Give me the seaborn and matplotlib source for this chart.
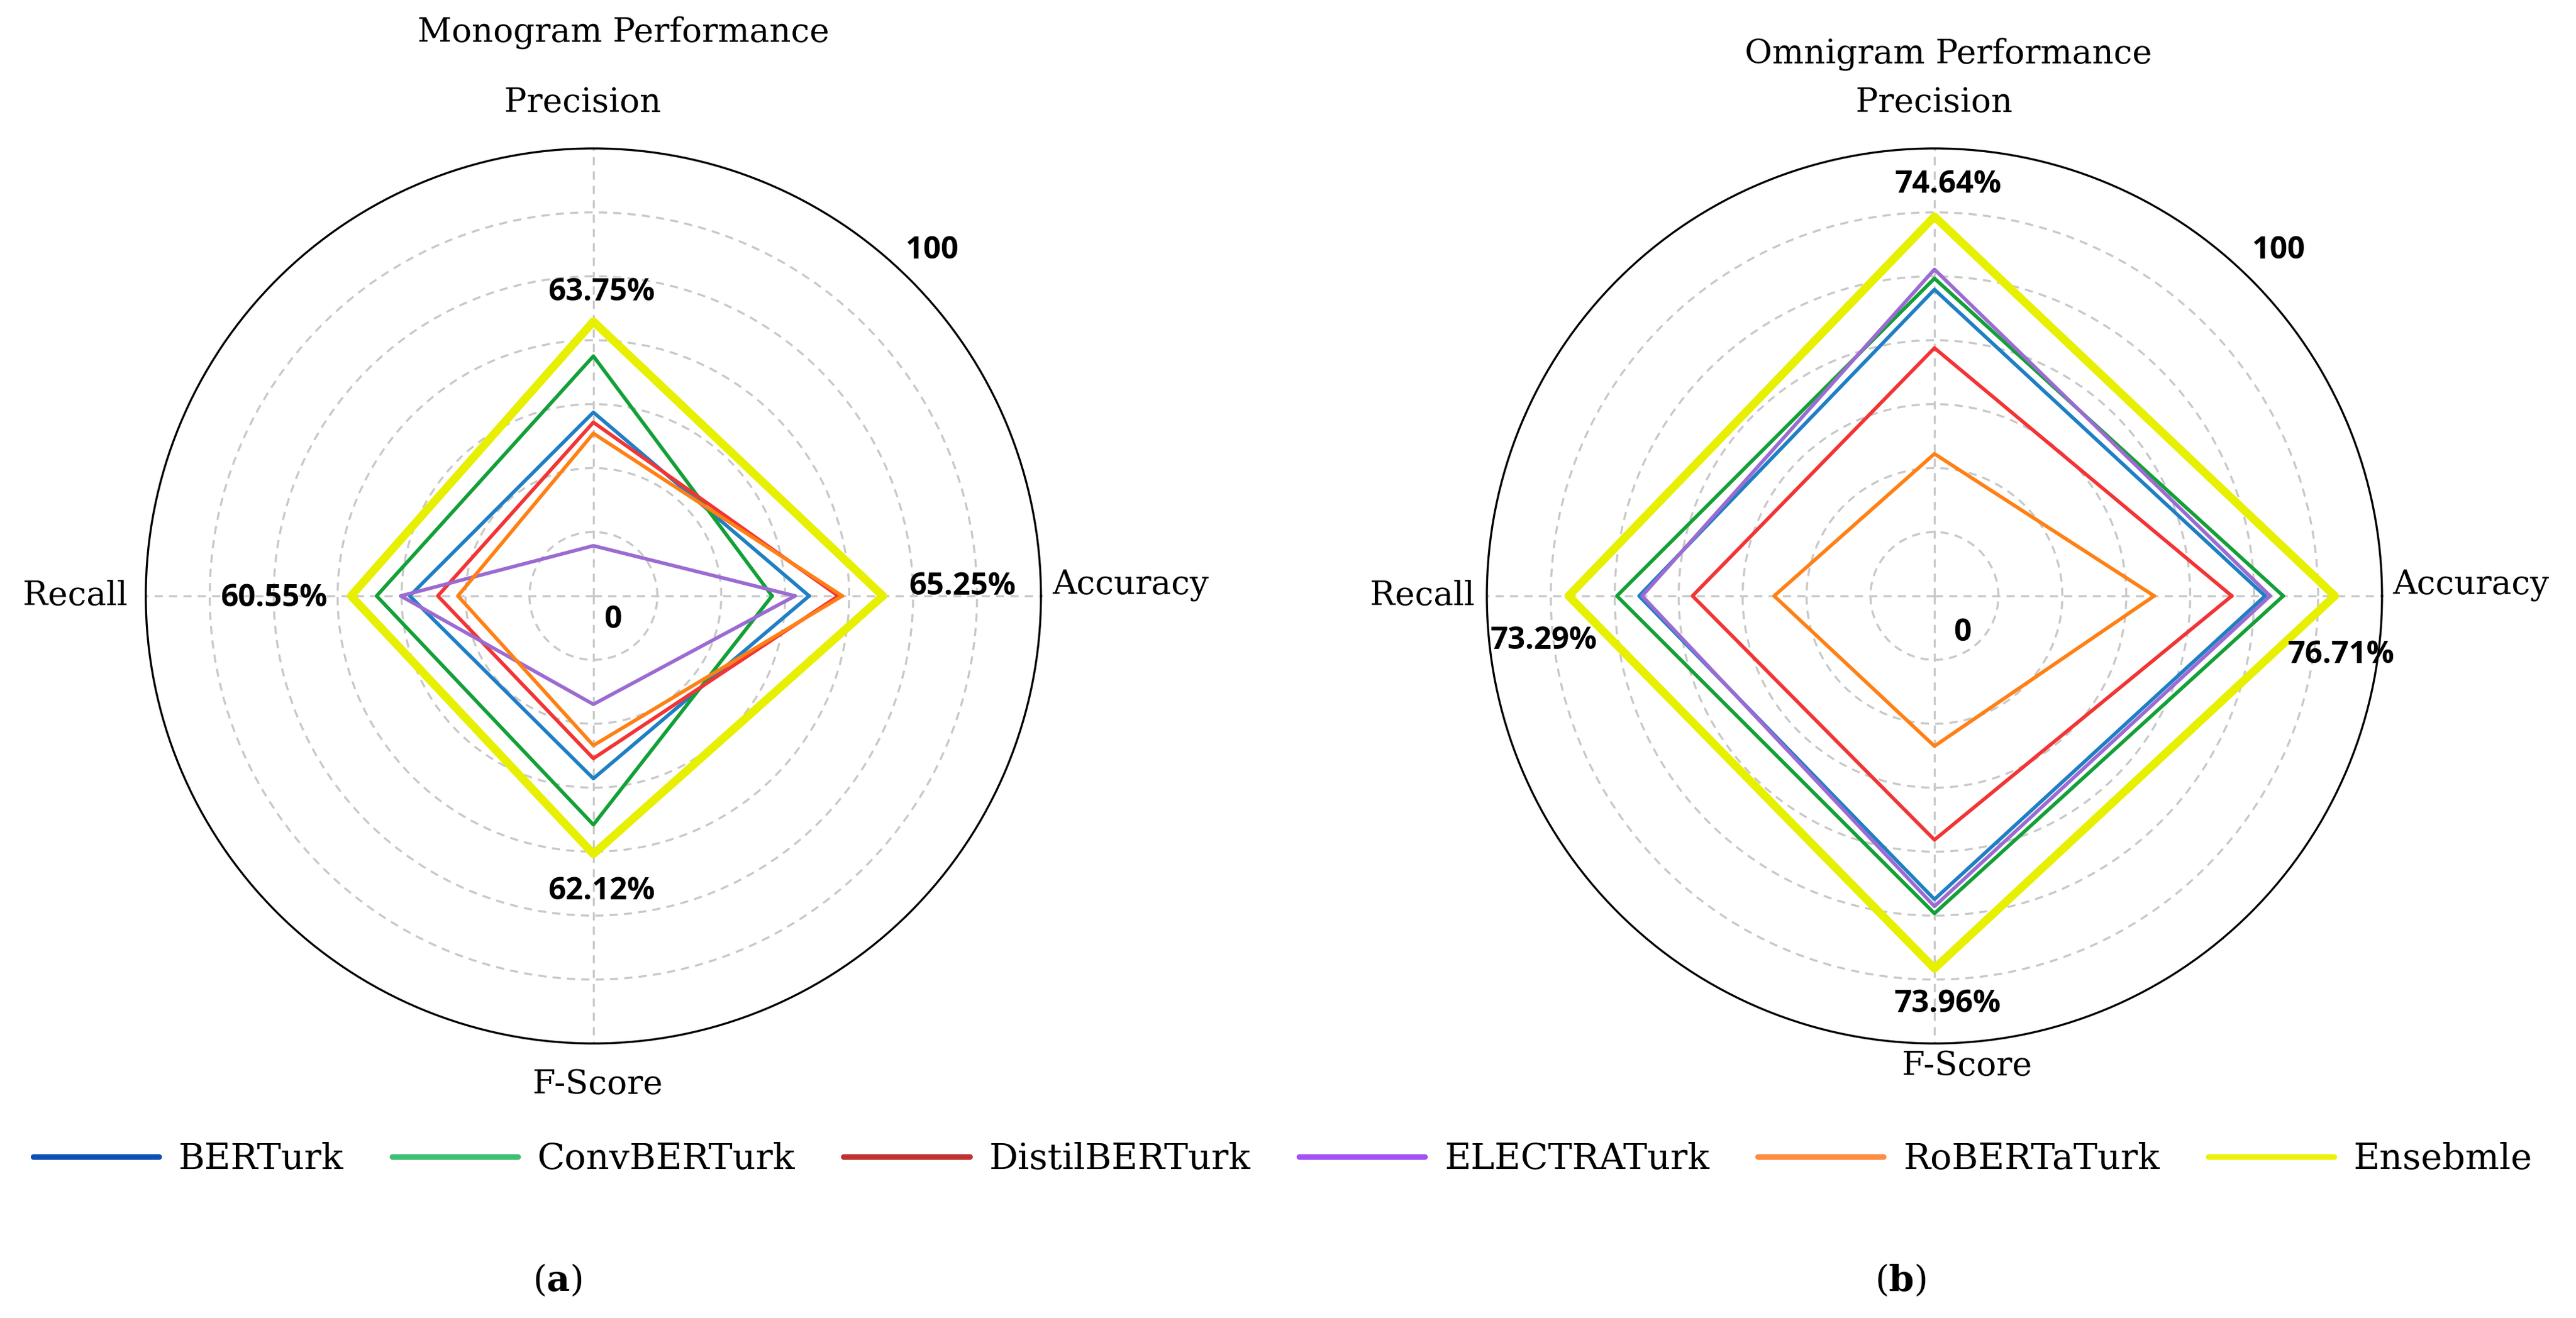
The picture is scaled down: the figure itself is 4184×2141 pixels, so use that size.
import numpy as np
import pandas as pd
import matplotlib.pyplot as plt
import seaborn as sns
from matplotlib.lines import Line2D

sns.set_style("white")
plt.rcParams["font.family"] = ["DejaVu Serif"]
plt.rcParams["mathtext.fontset"] = "dejavuserif"
plt.rcParams["text.color"] = "black"

metrics = ["Accuracy", "Precision", "Recall", "F-Score"]
models = ["BERTurk", "ConvBERTurk", "DistilBERTurk", "ELECTRATurk", "RoBERTaTurk", "Ensemble"]
legend_labels = ["BERTurk", "ConvBERTurk", "DistilBERTurk", "ELECTRATurk", "RoBERTaTurk", "Ensebmle"]

# values per model in metric order: Accuracy, Precision, Recall, F-Score
mono_bert = [57.9, 54.7, 54.7, 54.6]
mono_conv = [54.2, 60.3, 58.0, 59.2]
mono_distil = [60.8, 53.7, 51.9, 52.6]
mono_electra = [56.5, 41.4, 55.6, 47.2]
mono_roberta = [61.2, 52.6, 49.9, 51.3]
mono_ensemble = [65.25, 63.75, 60.55, 62.12]

omni_bert = [69.8, 67.4, 66.3, 67.1]
omni_conv = [71.6, 68.5, 68.5, 68.5]
omni_distil = [66.5, 61.6, 61.0, 61.2]
omni_electra = [70.3, 69.4, 66.0, 67.8]
omni_roberta = [58.8, 51.1, 52.9, 51.9]
omni_ensemble = [76.71, 74.64, 73.29, 73.96]

line_colors = ["#1f7fc4", "#12a037", "#f23434", "#9b6bd2", "#ff8014", "#e6f000"]
legend_colors = ["#0a4fb5", "#3dbf72", "#c0302e", "#a050f5", "#ff8c40", "#eaf200"]
line_widths = [1.4, 1.4, 1.4, 1.4, 1.4, 3.2]

angles = np.array([0, np.pi / 2, np.pi, 3 * np.pi / 2])


def build_frame(series):
    rows = []
    for model, vals in zip(models, series):
        for ang, met, v in zip(np.append(angles, 2 * np.pi), metrics + [metrics[0]], vals + [vals[0]]):
            rows.append({"model": model, "theta": ang, "metric": met, "value": v})
    return pd.DataFrame(rows)


def draw_radar(ax, df, rlim, pct_offsets, zero_off, hundred_off, label_offsets):
    for i, model in enumerate(models):
        sub = df[df["model"] == model]
        sns.lineplot(data=sub, x="theta", y="value", ax=ax, color=line_colors[i],
                     lw=line_widths[i], sort=False, estimator=None, legend=False)
    ax.set_ylim(*rlim)
    rings = np.linspace(rlim[0], rlim[1], 8)[1:-1]
    ax.set_yticks(rings)
    ax.set_yticklabels([])
    ax.set_xticks(angles)
    ax.set_xticklabels([])
    ax.set_xlabel("")
    ax.set_ylabel("")
    ax.grid(True, color="#c8c8c8", linestyle=(0, (4, 3)), lw=0.8)
    ax.spines["polar"].set_color("black")
    ax.spines["polar"].set_linewidth(0.8)

    ens = df[(df["model"] == "Ensemble")].iloc[:4]
    for (_, row), off in zip(ens.iterrows(), pct_offsets):
        ax.annotate(f"{row['value']:.2f}%", xy=(row["theta"], row["value"]), xytext=off,
                    textcoords="offset pixels", ha="center", va="center",
                    family="Open Sans", fontweight="bold", fontsize=12, annotation_clip=False)

    ax.annotate("0", xy=(0, rlim[0]), xytext=zero_off, textcoords="offset pixels",
                ha="center", va="center", family="Open Sans", fontweight="bold",
                fontsize=12, annotation_clip=False)
    ax.annotate("100", xy=(np.pi / 4, rlim[1]), xytext=hundred_off, textcoords="offset pixels",
                ha="center", va="center", family="Open Sans", fontweight="bold",
                fontsize=12, annotation_clip=False)

    aligns = ["left", "center", "right", "center"]
    for ang, met, off, ha in zip(angles, metrics, label_offsets, aligns):
        ax.annotate(met, xy=(ang, rlim[1]), xytext=off, textcoords="offset pixels",
                    ha=ha, va="center", fontsize=13, annotation_clip=False)


fig = plt.figure(figsize=(4184 / 300, 2141 / 300), dpi=300)
ax_left = fig.add_axes([0.0566, 0.2083, 0.3475, 0.6791], projection="polar")
ax_right = fig.add_axes([0.5772, 0.2083, 0.3475, 0.6791], projection="polar")

mono_df = build_frame([mono_bert, mono_conv, mono_distil, mono_electra, mono_roberta, mono_ensemble])
omni_df = build_frame([omni_bert, omni_conv, omni_distil, omni_electra, omni_roberta, omni_ensemble])

draw_radar(ax_left, mono_df, (36.4, 81.0),
           pct_offsets=[(129, 15), (13, 47), (-125, -4), (13, -61)],
           zero_off=(32, -39), hundred_off=(36, 47),
           label_offsets=[(18, 17), (-17, 74), (-30, 0), (7, -67)])
draw_radar(ax_right, omni_df, (37.0, 81.4),
           pct_offsets=[(10, -96), (22, 52), (-40, -73), (21, -58)],
           zero_off=(46, -60), hundred_off=(45, 47),
           label_offsets=[(17, 17), (-1, 74), (-20, 0), (53, -37)])

fig.text(0.2421, 0.9752, "Monogram Performance", ha="center", va="center", fontsize=13)
fig.text(0.7564, 0.9589, "Omnigram Performance", ha="center", va="center", fontsize=13)

handles = [Line2D([0], [0], color=c, lw=2.2) for c in legend_colors]
fig.legend(handles, legend_labels, loc="center", bbox_to_anchor=(0.498, 0.1205), ncol=6,
           frameon=False, handlelength=3.5, handletextpad=0.55, columnspacing=1.35,
           prop={"family": "DejaVu Serif", "size": 14})

fig.text(0.2165, 0.0285, r"($\mathbf{a}$)", ha="center", va="center", fontsize=14)
fig.text(0.7378, 0.0285, r"($\mathbf{b}$)", ha="center", va="center", fontsize=14)

fig.savefig("out.png", dpi=300, facecolor="white")
